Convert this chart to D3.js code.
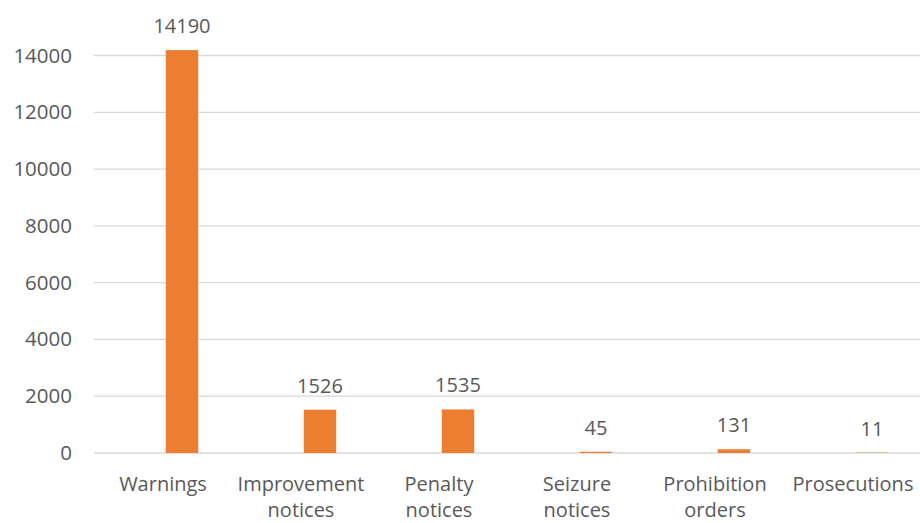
<!DOCTYPE html>
<html><head><meta charset="utf-8">
<script src="https://cdn.jsdelivr.net/npm/d3@7"></script>
<style>
body{margin:0;background:#fff;}
svg{display:block;font-family:"Open Sans",sans-serif;}
</style></head>
<body><svg id="c" width="920" height="523"></svg>
<script>
const categories = [["Warnings"],["Improvement","notices"],["Penalty","notices"],["Seizure","notices"],["Prohibition","orders"],["Prosecutions"]];
const values = [14190,1526,1535,45,131,11];
const yTicks = [0,2000,4000,6000,8000,10000,12000,14000];

const svg = d3.select("#c");
// category bands (labels centred on these)
const x = d3.scaleBand().domain(categories.map((d,i)=>i)).range([94,922]).padding(0);
// two series slots per category; only the second slot holds data
const x1 = d3.scaleBand().domain(["a","b"]).range([x.bandwidth()*0.27, x.bandwidth()*0.755]).paddingInner(0.06);
const y = d3.scaleLinear().domain([0,14000]).range([453,55.5]);
const textColor = "#595959";
const fs = "20px";

// gridlines
svg.append("g").selectAll("line").data(yTicks).join("line")
  .attr("x1",94).attr("x2",920)
  .attr("y1",d=>y(d)).attr("y2",d=>y(d))
  .attr("stroke","#d9d9d9").attr("stroke-width",1.3);

// y axis labels
const yAxis = d3.axisLeft(y).tickValues(yTicks).tickSize(0).tickPadding(0).tickFormat(d3.format("d"));
const ga = svg.append("g").attr("transform","translate(72,0)").call(yAxis);
ga.select(".domain").remove();
ga.selectAll("text").attr("fill",textColor).style("font-size","20.5px").style("font-family","'Open Sans',sans-serif");

const bx = i => x(i) + x1("b");
const bw = x1.bandwidth();

// bars
svg.append("g").selectAll("rect").data(values).join("rect")
  .attr("x",(d,i)=>bx(i)).attr("width",bw)
  .attr("y",d=>y(d)).attr("height",d=>y(0)-y(d))
  .attr("fill","#ED7D31");

// value labels
svg.append("g").selectAll("text").data(values).join("text")
  .attr("x",(d,i)=>bx(i)+bw/2)
  .attr("y",d=>y(d)-24)
  .attr("dy","0.35em")
  .attr("text-anchor","middle").attr("fill",textColor).style("font-size",fs)
  .text(d=>d);

// category labels
const cg = svg.append("g").selectAll("text").data(categories).join("text")
  .attr("text-anchor","middle").attr("fill",textColor).style("font-size",fs);
cg.selectAll("tspan").data((d,i)=>d.map(t=>({t,i}))).join("tspan")
  .attr("x",d=>x(d.i)+x.bandwidth()/2)
  .attr("y",(d,j)=>484+j*26)
  .attr("dy","0.35em")
  .text(d=>d.t);
</script></body></html>
